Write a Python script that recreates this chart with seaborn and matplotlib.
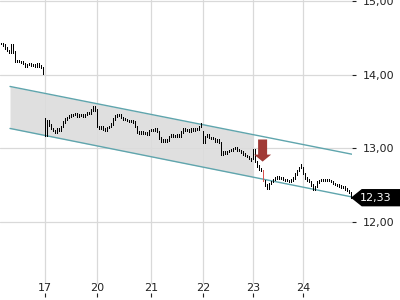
import numpy as np
import pandas as pd
import matplotlib
matplotlib.use("Agg")
import matplotlib.pyplot as plt
from matplotlib.patches import Polygon
from matplotlib.transforms import blended_transform_factory
import seaborn as sns

# ----------------------- data ------------------------------------------------

# closing price per bar (7 sessions, partial first session)
closes = [
    # 16
    14.42, 14.40, 14.36, 14.33, 14.30, 14.41, 14.31, 14.18, 14.19, 14.18, 14.17,
    14.15, 14.12, 14.14, 14.15, 14.13, 14.14, 14.12, 14.15, 14.12, 14.10, 14.02,
    # 17
    13.18, 13.38, 13.32, 13.27, 13.24, 13.22, 13.26, 13.24, 13.30, 13.36, 13.40,
    13.42, 13.44, 13.45, 13.46, 13.47, 13.44, 13.46, 13.45, 13.43, 13.46, 13.48,
    13.47, 13.52, 13.56, 13.52,
    # 20
    13.30, 13.27, 13.29, 13.26, 13.25, 13.28, 13.30, 13.33, 13.40, 13.44, 13.46,
    13.45, 13.42, 13.40, 13.39, 13.38, 13.37, 13.38, 13.36, 13.30, 13.22, 13.21,
    13.22, 13.20, 13.21, 13.19, 13.24,
    # 21
    13.25, 13.24, 13.26, 13.23, 13.14, 13.10, 13.12, 13.09, 13.11, 13.16, 13.18,
    13.17, 13.16, 13.18, 13.17, 13.22, 13.26, 13.24, 13.25, 13.23, 13.26, 13.24,
    13.27, 13.26, 13.30, 13.34,
    # 22
    13.08, 13.16, 13.18, 13.15, 13.14, 13.13, 13.10, 13.11, 13.08, 12.92, 12.95,
    12.93, 12.96, 12.97, 12.98, 13.00, 13.01, 12.98, 12.97, 12.95, 12.92, 12.90,
    12.89, 12.86, 12.84,
    # 23
    12.98, 12.82, 12.76, 12.72, 12.70, 12.56, 12.50, 12.46, 12.52, 12.55, 12.58,
    12.60, 12.61, 12.59, 12.60, 12.58, 12.57, 12.56, 12.55, 12.57, 12.60, 12.65,
    12.70, 12.74, 12.78,
    # 24
    12.66, 12.60, 12.57, 12.55, 12.50, 12.44, 12.48, 12.54, 12.56, 12.57, 12.58,
    12.57, 12.58, 12.56, 12.55, 12.52, 12.51, 12.50, 12.49, 12.47, 12.48, 12.45,
    12.43, 12.40, 12.33,
]

# first bar of each session and its opening price
day_labels = ["17", "20", "21", "22", "23", "24"]
day_start = [22, 48, 75, 101, 126, 151]
day_open = [13.40, 13.52, 13.24, 13.22, 12.86, 12.74]

highlight_bar = 131          # red bar (signal)

# trend channel
chan_x = [4.5, 175.5]
chan_upper = [13.84, 12.92]
chan_lower = [13.27, 12.34]
chan_fill_end = 126

# arrow (signal)
arrow_x = 130.8
arrow_top = 13.12
arrow_tip = 12.82

last_price = 12.33
y_ticks = [12, 13, 14, 15]

# ----------------------- plot ------------------------------------------------

sns.set_style("white")

n = len(closes)
idx = np.arange(n)
opens = [closes[0]] + closes[:-1]
for d, o in zip(day_start, day_open):
    opens[d] = o
opens = np.array(opens)
closes_a = np.array(closes)
lo = np.minimum(opens, closes_a) - 0.01
hi = np.maximum(opens, closes_a) + 0.01

fig = plt.figure(figsize=(4, 3), dpi=100)
ax = fig.add_axes([0, 0.01, 0.88, 0.99])

GRID = "#d9d9d9"
for y in y_ticks:
    ax.axhline(y, color=GRID, lw=0.9, zorder=0)
for d in day_start:
    ax.axvline(d, ymin=0.047, color=GRID, lw=0.9, zorder=0)

# channel
fill_x = np.array([chan_x[0], chan_fill_end])
ax.fill_between(fill_x,
                np.interp(fill_x, chan_x, chan_lower),
                np.interp(fill_x, chan_x, chan_upper),
                color="#dcdcdc", alpha=0.9, lw=0, zorder=1)
chan_df = pd.DataFrame({"x": chan_x * 2,
                        "y": chan_upper + chan_lower,
                        "line": ["upper"] * 2 + ["lower"] * 2})
sns.lineplot(data=chan_df, x="x", y="y", units="line", estimator=None,
             color="#5fa5ad", lw=1.0, ax=ax, zorder=2)

# bars
colors = ["#d9534f" if i == highlight_bar else "black" for i in idx]
ax.vlines(idx, lo, hi, colors=colors, lw=0.72, antialiased=False, zorder=3)

# arrow
ax.arrow(arrow_x, arrow_top, 0, arrow_tip - arrow_top, width=4.5, head_width=8.5,
         head_length=0.095, length_includes_head=True, color="#a03a36",
         lw=0, zorder=4)

ax.set_xlim(-0.5, 175.5)
ax.set_ylim(10.982, 15.0136)
ax.set_xticks(day_start)
ax.set_xticklabels(day_labels)
ax.set_yticks(y_ticks)
ax.set_yticklabels([f"{v:.2f}".replace(".", ",") for v in y_ticks])
ax.yaxis.tick_right()
ax.tick_params(axis="y", direction="out", length=3, pad=5, labelsize=8,
               color="#222222", labelcolor="#222222", right=True, width=0.8)
ax.tick_params(axis="x", direction="in", length=3, pad=-10, labelsize=8,
               color="#222222", labelcolor="#222222", bottom=True, width=0.8)
for s in ax.spines.values():
    s.set_visible(False)
ax.set_xlabel("")
ax.set_ylabel("")

# last price label
tr = blended_transform_factory(fig.transFigure, ax.transData)
h = 0.108
poly = Polygon([(352 / 400, last_price), (362 / 400, last_price + h), (1.0, last_price + h),
                (1.0, last_price - h), (362 / 400, last_price - h)],
               closed=True, transform=tr, color="black", clip_on=False, zorder=5)
ax.add_patch(poly)
ax.text(0.94, last_price, f"{last_price:.2f}".replace(".", ","), transform=tr,
        color="white", fontsize=8, ha="center", va="center", zorder=6)

fig.savefig("out.png", dpi=100)
